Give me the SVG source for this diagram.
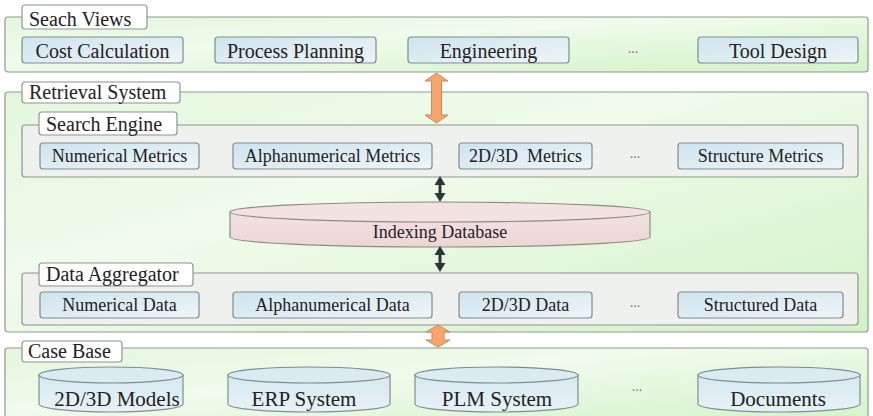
<svg xmlns="http://www.w3.org/2000/svg" width="873" height="416" viewBox="0 0 873 416" font-family="'Liberation Serif', 'DejaVu Serif', serif">
<defs>
<linearGradient id="gPanel" x1="0" y1="0" x2="1" y2="1">
<stop offset="0" stop-color="#e4f7dd"/>
<stop offset="0.4" stop-color="#f0fbec"/>
<stop offset="1" stop-color="#d3f2c7"/>
</linearGradient>
<linearGradient id="gItem" x1="0" y1="0" x2="1" y2="1">
<stop offset="0" stop-color="#cfe4ee"/>
<stop offset="1" stop-color="#eef5f8"/>
</linearGradient>
<linearGradient id="gCyl" x1="0" y1="0" x2="0" y2="1">
<stop offset="0" stop-color="#d6e8f0"/>
<stop offset="1" stop-color="#e8f2f6"/>
</linearGradient>
<linearGradient id="gPink" x1="0" y1="0" x2="0" y2="1">
<stop offset="0" stop-color="#f3e1e1"/>
<stop offset="1" stop-color="#ecd6d6"/>
</linearGradient>
</defs>
<style>
.panel{fill:url(#gPanel);stroke:#8e9c8e;stroke-width:1.2}
.inner{fill:#eef1ee;stroke:#8e968f;stroke-width:1.2}
.lbl{fill:#ffffff;stroke:#8e968f;stroke-width:1.2}
.item{fill:url(#gItem);stroke:#7f8d94;stroke-width:1.2}
.cyl{fill:url(#gCyl);stroke:#7f8d94;stroke-width:1.2}
.cyltop{fill:#dcebf2;stroke:#7f8d94;stroke-width:1.2}
.pink{fill:url(#gPink);stroke:#8e8a8a;stroke-width:1.2}
.pinktop{fill:#f3e2e2;stroke:#8e8a8a;stroke-width:1.2}
text{font-family:'Liberation Serif','DejaVu Serif',serif;fill:#222}
.t20{font-size:20px}
.t18{font-size:18px;text-anchor:middle}
.t20c{font-size:20px;text-anchor:middle}
.t21c{font-size:21px;text-anchor:middle}
.dots{font-size:14px;text-anchor:middle;fill:#777}
.orange{fill:#f6a56c;stroke:#c98a5e;stroke-width:1}
.blk{fill:#2f3532;stroke:none}
</style>

<!-- Seach Views -->
<g id="seach-views">
<rect class="panel" x="5" y="17" width="863" height="55" rx="3"/>
<rect class="lbl" x="22" y="5" width="125" height="24" rx="3"/>
<text class="t20" x="29" y="26">Seach Views</text>
</g>
<g id="cost-calculation"><rect class="item" x="22" y="37" width="161" height="26" rx="3"/><text class="t20c" x="102.5" y="58">Cost Calculation</text></g>
<g id="process-planning"><rect class="item" x="215" y="37" width="161" height="26" rx="3"/><text class="t20c" x="295.5" y="58">Process Planning</text></g>
<g id="engineering"><rect class="item" x="408" y="37" width="161" height="26" rx="3"/><text class="t20c" x="488.5" y="58">Engineering</text></g>
<g id="views-more"><text class="dots" x="633" y="53">...</text></g>
<g id="tool-design"><rect class="item" x="698" y="37" width="160" height="26" rx="3"/><text class="t20c" x="778" y="58">Tool Design</text></g>

<!-- Retrieval System -->
<g id="retrieval-system">
<rect class="panel" x="5" y="92" width="863" height="240" rx="3"/>
<rect class="lbl" x="22" y="82" width="158" height="21" rx="3"/>
<text class="t20" x="29" y="99">Retrieval System</text>
</g>

<g id="search-engine">
<rect class="inner" x="22" y="125" width="836" height="52" rx="3"/>
<rect class="lbl" x="39" y="112" width="138" height="23" rx="3"/>
<text class="t20" x="46" y="131">Search Engine</text>
</g>
<g id="numerical-metrics"><rect class="item" x="40" y="143" width="159" height="26" rx="3"/><text class="t18" x="119.5" y="162">Numerical Metrics</text></g>
<g id="alphanumerical-metrics"><rect class="item" x="233" y="143" width="199" height="26" rx="3"/><text class="t18" x="332.5" y="162">Alphanumerical Metrics</text></g>
<g id="metrics-2d3d"><rect class="item" x="459" y="143" width="133" height="26" rx="3"/><text class="t18" x="525.5" y="162" xml:space="preserve">2D/3D  Metrics</text></g>
<g id="metrics-more"><text class="dots" x="635" y="158">...</text></g>
<g id="structure-metrics"><rect class="item" x="678" y="143" width="165" height="26" rx="3"/><text class="t18" x="760.5" y="162">Structure Metrics</text></g>

<g id="indexing-database">
<path class="pink" d="M230,212 V237 A210,10 0 0 0 650,237 V212 Z"/>
<ellipse class="pinktop" cx="440" cy="212" rx="210" ry="10"/>
<text class="t18" x="440" y="238">Indexing Database</text>
</g>

<g id="data-aggregator">
<rect class="inner" x="22" y="273" width="836" height="52" rx="3"/>
<rect class="lbl" x="39" y="263" width="154" height="23" rx="3"/>
<text class="t20" x="46" y="281">Data Aggregator</text>
</g>
<g id="numerical-data"><rect class="item" x="40" y="292" width="159" height="26" rx="3"/><text class="t18" x="119.5" y="311">Numerical Data</text></g>
<g id="alphanumerical-data"><rect class="item" x="233" y="292" width="199" height="26" rx="3"/><text class="t18" x="332.5" y="311">Alphanumerical Data</text></g>
<g id="data-2d3d"><rect class="item" x="459" y="292" width="133" height="26" rx="3"/><text class="t18" x="525.5" y="311">2D/3D Data</text></g>
<g id="data-more"><text class="dots" x="635" y="307">...</text></g>
<g id="structured-data"><rect class="item" x="678" y="292" width="165" height="26" rx="3"/><text class="t18" x="760.5" y="311">Structured Data</text></g>

<!-- Case Base -->
<g id="case-base">
<rect class="panel" x="5" y="348" width="863" height="80" rx="3"/>
<rect class="lbl" x="22" y="341" width="100" height="21" rx="3"/>
<text class="t20" x="28" y="358">Case Base</text>
</g>
<g id="models-2d3d">
<path class="cyl" d="M39,375 V404 A72,8 0 0 0 183,404 V375 Z"/>
<ellipse class="cyltop" cx="111" cy="375" rx="72" ry="8"/>
<text class="t21c" x="117" y="406">2D/3D Models</text>
</g>
<g id="erp-system">
<path class="cyl" d="M228,375 V404 A81,8 0 0 0 390,404 V375 Z"/>
<ellipse class="cyltop" cx="309" cy="375" rx="81" ry="8"/>
<text class="t21c" x="304" y="406">ERP System</text>
</g>
<g id="plm-system">
<path class="cyl" d="M415,375 V404 A81.5,8 0 0 0 578,404 V375 Z"/>
<ellipse class="cyltop" cx="496.5" cy="375" rx="81.5" ry="8"/>
<text class="t21c" x="497" y="406">PLM System</text>
</g>
<g id="cases-more"><text class="dots" x="637" y="391">...</text></g>
<g id="documents">
<path class="cyl" d="M698,375 V404 A81,8 0 0 0 860,404 V375 Z"/>
<ellipse class="cyltop" cx="779" cy="375" rx="81" ry="8"/>
<text class="t21c" x="778" y="406">Documents</text>
</g>

<!-- Connectors -->
<g id="connectors">
<path class="orange" d="M436.5,73 L448,81 L441.5,81 L441.5,115 L448,115 L436.5,123 L425,115 L431.5,115 L431.5,81 L425,81 Z"/>
<path class="orange" d="M438,325 L450,332 L444,332 L444,340 L450,340 L438,347 L426,340 L432,340 L432,332 L426,332 Z"/>
<rect class="blk" x="438.5" y="183" width="3" height="11"/>
<path class="blk" d="M440,176 L445.5,185 L434.5,185 Z M440,202 L445.5,193 L434.5,193 Z"/>
<rect class="blk" x="438.5" y="253" width="3" height="11"/>
<path class="blk" d="M440,246 L445.5,255 L434.5,255 Z M440,272 L445.5,263 L434.5,263 Z"/>
</g>
</svg>
